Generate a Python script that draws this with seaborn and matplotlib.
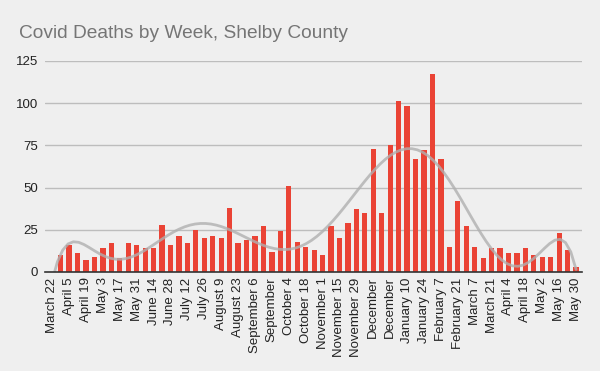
import numpy as np
import pandas as pd
import matplotlib
matplotlib.use('Agg')
import matplotlib.pyplot as plt
import seaborn as sns
import warnings

warnings.filterwarnings('ignore')

# weekly deaths, week of March 22 (2020) through May 30 (2021)
deaths = [0, 10, 16, 11, 7, 9, 14, 17, 8, 17, 16, 14, 14, 28, 16, 21, 17,
          25, 20, 21, 20, 38, 17, 19, 21, 27, 12, 24, 51, 18, 15, 13, 10,
          27, 20, 29, 37, 35, 73, 35, 75, 101, 98, 67, 72, 117, 67, 15, 42,
          27, 15, 8, 14, 14, 11, 11, 14, 10, 9, 9, 23, 13, 3]

# every second week gets a label (long ones are cut off in the original)
tick_labels = ['March 22', 'April 5', 'April 19', 'May 3', 'May 17', 'May 31',
               'June 14', 'June 28', 'July 12', 'July 26', 'August 9',
               'August 23', 'September 6', 'September', 'October 4',
               'October 18', 'November 1', 'November 15', 'November 29',
               'December', 'December', 'January 10', 'January 24',
               'February 7', 'February 21', 'March 7', 'March 21', 'April 4',
               'April 18', 'May 2', 'May 16', 'May 30']

df = pd.DataFrame({'week': np.arange(len(deaths)), 'deaths': deaths})

sns.set_style('white')
plt.rcParams['font.family'] = ['Liberation Sans', 'DejaVu Sans']

fig = plt.figure(figsize=(6, 3.71), dpi=100, facecolor='#efefef')
ax = fig.add_axes([0.075, 0.267, 0.895, 0.569])
ax.set_facecolor('#efefef')

sns.barplot(data=df, x='week', y='deaths', color='#ea4335', saturation=1,
            width=0.62, linewidth=0, ax=ax)

# polynomial trendline
sns.regplot(data=df, x='week', y='deaths', order=8, scatter=False, ci=None,
            ax=ax, line_kws={'color': '#b0b0b0', 'lw': 2, 'alpha': 0.8})

ax.set_ylim(0, 125)
ax.set_xlim(-0.85, 62.7)
ax.set_yticks([0, 25, 50, 75, 100, 125])
ax.yaxis.grid(True, color='#bdbdbd', lw=1)
ax.set_axisbelow(True)

ax.set_xticks(np.arange(0, len(deaths), 2))
ax.set_xticklabels(tick_labels, rotation=90, ha='center', va='top')
ax.tick_params(axis='both', length=0, labelsize=9.5, colors='#222222')
ax.tick_params(axis='x', pad=4)
ax.tick_params(axis='y', pad=5)

for s in ['top', 'right', 'left']:
    ax.spines[s].set_visible(False)
ax.spines['bottom'].set_color('#333333')
ax.spines['bottom'].set_linewidth(1.2)

ax.set_xlabel('')
ax.set_ylabel('')

fig.text(0.032, 0.898, 'Covid Deaths by Week, Shelby County', fontsize=13.75,
         color='#757575', va='baseline')

plt.savefig('out.png', dpi=100, facecolor=fig.get_facecolor())
